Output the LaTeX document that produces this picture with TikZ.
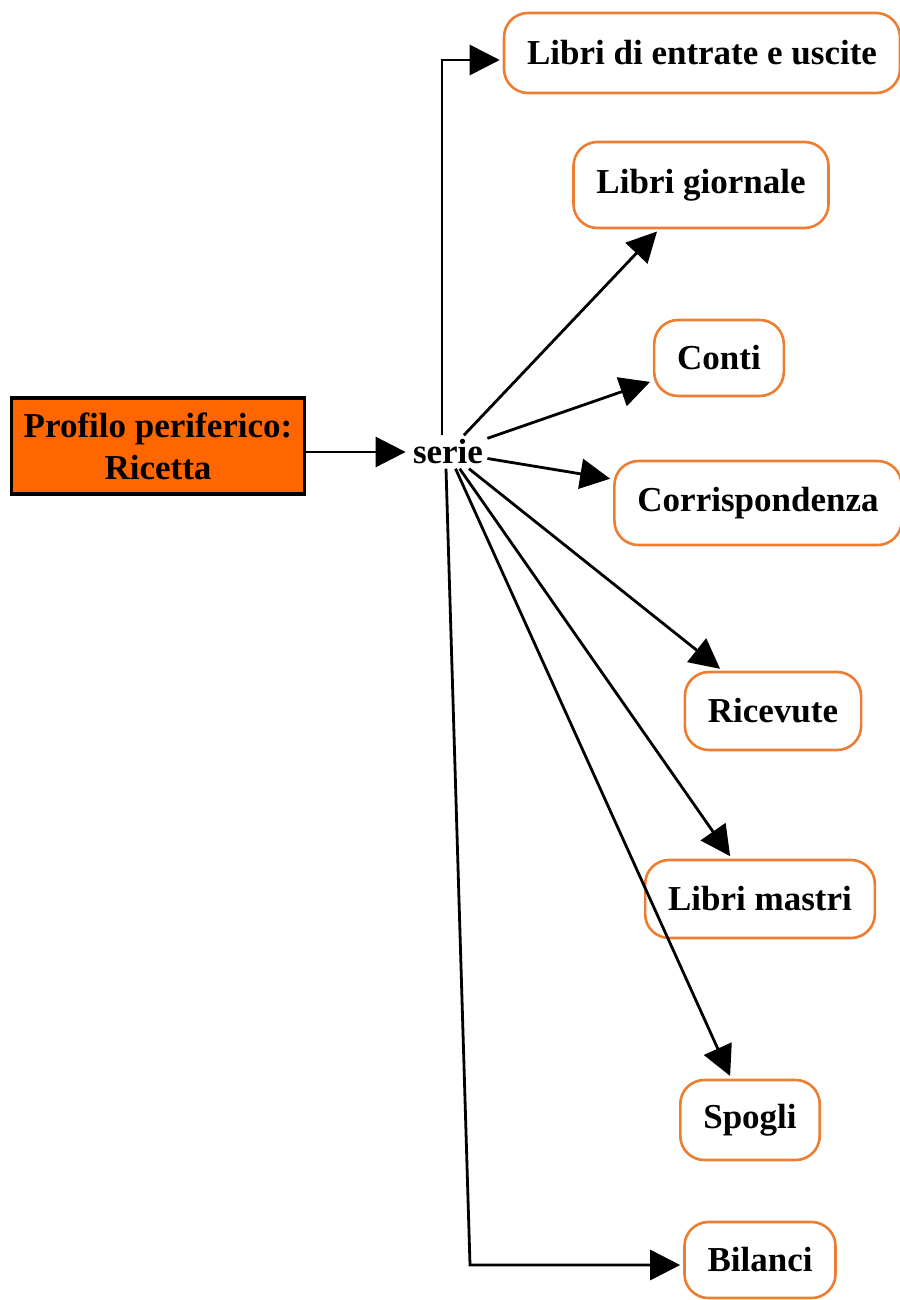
\documentclass[tikz,border=0pt]{standalone}
\usepackage{fontspec}
\setmainfont{Liberation Serif}
\usepackage{tikz}
\usetikzlibrary{
    positioning,
    arrows.meta
}
\definecolor{profileOrange}{RGB}{255, 102, 0}
\definecolor{seriesOrange}{RGB}{237, 125, 49}

\begin{document}
\begin{tikzpicture}[x=0.5pt, y=-0.5pt, >={Triangle[length=15pt, width=15pt]},
        font=\fontsize{17.5}{21}\selectfont\bfseries,
        profilebox/.style={draw=black, line width=1.6pt, fill=profileOrange,
            minimum width=146.5pt, minimum height=48pt, align=center, inner sep=2pt},
        seriesbox/.style={draw=seriesOrange, line width=1.3pt, rounded corners=12pt,
            minimum height=40pt, inner xsep=11.5pt},
        link/.style={->, line width=1.4pt, shorten >=1.5pt}]
        \useasboundingbox (0,0) rectangle (899,1300);

        % Profile and series
        \node[profilebox] (profilo) at (158,446) {Profilo periferico:\\Ricetta};
        \node[inner sep=2pt] (serie) at (448,452) {serie};

        % Series boxes
        \node[seriesbox] (entrate) at (702,53) {Libri di entrate e uscite};
        \node[seriesbox, minimum height=43pt] (giornale) at (701,185) {Libri giornale};
        \node[seriesbox, minimum height=38pt] (conti) at (719,358) {Conti};
        \node[seriesbox, minimum height=42pt] (corrisp) at (758,503) {Corrispondenza};
        \node[seriesbox, minimum height=39pt] (ricevute) at (773,711) {Ricevute};
        \node[seriesbox, minimum height=39pt] (mastri) at (760,899) {Libri mastri};
        \node[seriesbox] (spogli) at (750,1120) {Spogli};
        \node[seriesbox, minimum height=38pt] (bilanci) at (760,1260) {Bilanci};
        \coordinate (bend) at (470,1265);

        % Connectors
        \draw[link] (profilo.east |- serie.west) -- (serie.west);
        \draw[link] ([xshift=-3pt]serie.north) |- ([yshift=-3.5pt]entrate.west);
        \draw[link] (serie) -- (giornale);
        \draw[link] (serie) -- (conti);
        \draw[link] (serie) -- (corrisp);
        \draw[link] (serie) -- (ricevute);
        \draw[link] (serie) -- (mastri);
        \draw[link] (serie) -- (spogli);
        \draw[link] ([xshift=-1pt]serie.south) -- (bend) -- (bilanci.west |- bend);
    \end{tikzpicture}
\end{document}
